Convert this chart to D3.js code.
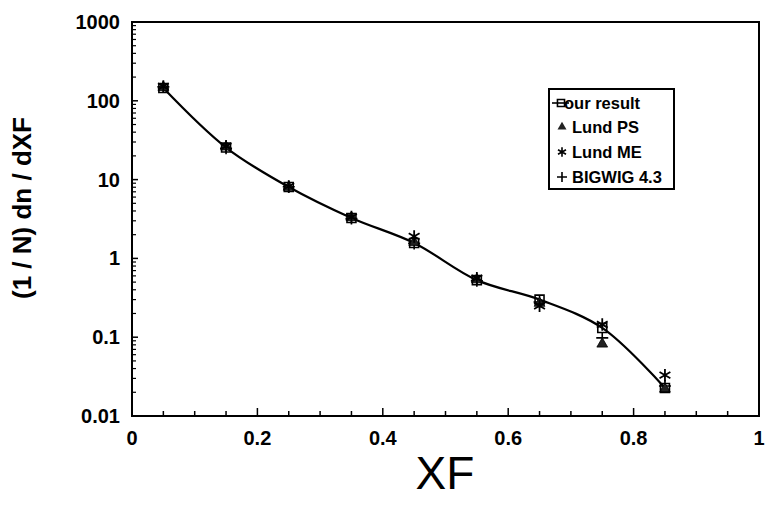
<!DOCTYPE html>
<html><head><meta charset="utf-8">
<script src="https://cdn.jsdelivr.net/npm/d3@7"></script>
<style>body{margin:0;background:#fff}svg{display:block}</style>
</head><body>
<svg id="c" width="765" height="510"></svg>
<script>
const xf = [0.05, 0.15, 0.25, 0.35, 0.45, 0.55, 0.65, 0.75, 0.85];
const ourResult = [145, 25.5, 8.05, 3.26, 1.57, 0.53, 0.30, 0.131, 0.0227];
const lundPS    = [148, 26, 8.0, 3.3, 1.6, 0.54, 0.27, 0.082, 0.022];
const lundME    = [152, 26.5, 8.2, 3.35, 1.9, 0.56, 0.25, 0.145, 0.033];
const bigwig    = [150, 25, 8.1, 3.2, 1.55, 0.52, 0.28, 0.098, 0.024];
const xTicks = [0, 0.2, 0.4, 0.6, 0.8, 1];
const xTickLabels = ["0", "0.2", "0.4", "0.6", "0.8", "1"];
const yTicks = [0.01, 0.1, 1, 10, 100, 1000];
const yTickLabels = ["0.01", "0.1", "1", "10", "100", "1000"];
const legendNames = ["our result", "Lund PS", "Lund ME", "BIGWIG 4.3"];

const L = 132, R = 759, T = 22, B = 416;
const svg = d3.select("#c");
const x = d3.scaleLinear().domain([0, 1]).range([L, R]);
const y = d3.scaleLog().domain([0.01, 1000]).range([B, T]);
const font = "'Liberation Sans', Arial, sans-serif";

// minor ticks
const yMinor = [];
for (let e = -2; e < 3; e++) for (let k = 2; k <= 9; k++) yMinor.push(k * Math.pow(10, e));
svg.append("g").selectAll("line").data(yMinor).join("line")
  .attr("x1", L).attr("x2", L + 4).attr("y1", d => y(d)).attr("y2", d => y(d))
  .attr("stroke", "#000").attr("stroke-width", 1.2);
svg.append("g").selectAll("line").data(yTicks).join("line")
  .attr("x1", L).attr("x2", L + 6).attr("y1", d => y(d)).attr("y2", d => y(d))
  .attr("stroke", "#000").attr("stroke-width", 1.5);
const xMinor = d3.range(1, 20).map(i => i * 0.05);
svg.append("g").selectAll("line").data(xMinor).join("line")
  .attr("x1", d => x(d)).attr("x2", d => x(d)).attr("y1", B).attr("y2", d => (Math.round(d * 20) % 4 === 0) ? B - 8 : B - 5)
  .attr("stroke", "#000").attr("stroke-width", 1.5);

// box
svg.append("rect").attr("x", L).attr("y", T).attr("width", R - L).attr("height", B - T)
  .attr("fill", "none").attr("stroke", "#000").attr("stroke-width", 2);

// tick labels
svg.append("g").selectAll("text").data(yTicks).join("text")
  .attr("x", 120).attr("y", d => y(d)).attr("dy", "0.35em").attr("text-anchor", "end")
  .attr("font-family", font).attr("font-weight", "bold").attr("font-size", 20)
  .text((d, i) => yTickLabels[i]);
svg.append("g").selectAll("text").data(xTicks).join("text")
  .attr("x", d => x(d)).attr("y", 445).attr("text-anchor", "middle")
  .attr("font-family", font).attr("font-weight", "bold").attr("font-size", 20)
  .text((d, i) => xTickLabels[i]);

// axis titles
svg.append("text").attr("x", 445).attr("y", 489).attr("text-anchor", "middle")
  .attr("font-family", font).attr("font-size", 46).text("XF");
svg.append("text").attr("transform", "translate(31,208) rotate(-90)").attr("text-anchor", "middle")
  .attr("font-family", font).attr("font-weight", "bold").attr("font-size", 26)
  .text("(1 / N) dn / dXF");

// curve
const pts = xf.map((d, i) => [x(d), y(ourResult[i])]);
svg.append("path").attr("d", d3.line().curve(d3.curveCatmullRom.alpha(0.5))(pts))
  .attr("fill", "none").attr("stroke", "#000").attr("stroke-width", 2.2);

// markers
function drawSeries(vals, type, size, opts) {
  svg.append("g").selectAll("path").data(vals).join("path")
    .attr("transform", (d, i) => `translate(${x(xf[i])},${y(d)})`)
    .attr("d", d3.symbol().type(type).size(size))
    .attr("fill", opts.fill).attr("stroke", "#000").attr("stroke-width", opts.sw);
}
svg.append("g").selectAll("path").data(bigwig).join("path")
  .attr("transform", (d, i) => `translate(${x(xf[i])},${y(d)})`)
  .attr("d", "M-6,0H6M0,-6V6").attr("stroke", "#000").attr("stroke-width", 1.6).attr("fill", "none");
drawSeries(lundPS, d3.symbolTriangle, 50, {fill: "#222", sw: 0.8});
drawSeries(lundME, d3.symbolAsterisk, 110, {fill: "none", sw: 1.8});
drawSeries(ourResult, d3.symbolSquare, 80, {fill: "none", sw: 1.6});

// legend
const lg = svg.append("g");
lg.append("rect").attr("x", 549).attr("y", 89).attr("width", 125).attr("height", 100)
  .attr("fill", "#fff").attr("stroke", "#000").attr("stroke-width", 2);
const ly = [103, 127, 152, 177];
lg.selectAll("text").data(legendNames).join("text")
  .attr("x", (d, i) => i === 0 ? 564 : 572).attr("y", (d, i) => ly[i]).attr("dy", "0.35em")
  .attr("font-family", font).attr("font-weight", "bold").attr("font-size", 16.5)
  .text(d => d);
lg.append("line").attr("x1", 552).attr("x2", 569).attr("y1", ly[0]).attr("y2", ly[0])
  .attr("stroke", "#000").attr("stroke-width", 1.6);
lg.append("path").attr("transform", `translate(561,${ly[0]})`).attr("d", d3.symbol().type(d3.symbolSquare).size(50))
  .attr("fill", "none").attr("stroke", "#000").attr("stroke-width", 1.6);
lg.append("path").attr("transform", `translate(562,${ly[1]})`).attr("d", d3.symbol().type(d3.symbolTriangle).size(35))
  .attr("fill", "#222");
lg.append("path").attr("transform", `translate(562,${ly[2]})`).attr("d", d3.symbol().type(d3.symbolAsterisk).size(60))
  .attr("fill", "none").attr("stroke", "#000").attr("stroke-width", 1.6);
lg.append("path").attr("transform", `translate(562,${ly[3]})`).attr("d", "M-5,0H5M0,-5V5")
  .attr("stroke", "#000").attr("stroke-width", 1.6);
</script>
</body></html>
